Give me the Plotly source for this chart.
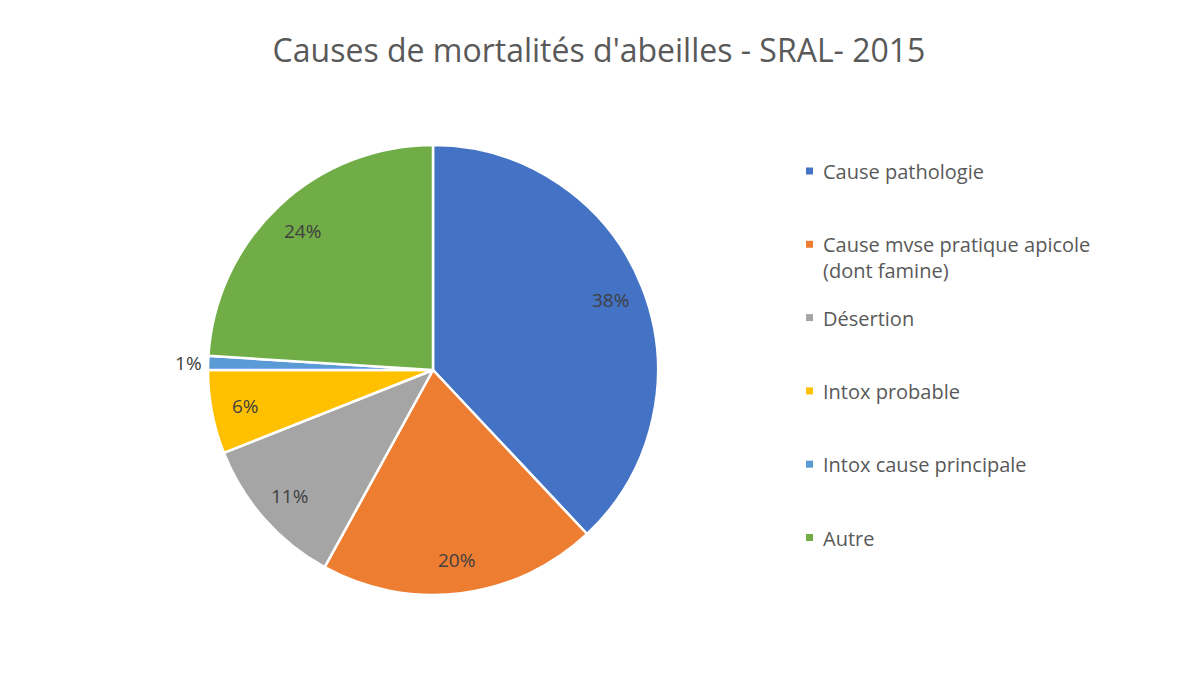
import math
import plotly.graph_objs as go

# donnees
labels = ["Cause pathologie", "Cause mvse pratique apicole<br>(dont famine)", "Désertion",
          "Intox probable", "Intox cause principale", "Autre"]
valeurs = [38, 20, 11, 6, 1, 24]
couleurs = ["#4472C4", "#ED7D31", "#A5A5A5", "#FFC000", "#5B9BD5", "#70AD47"]
# la petite part (1%) a son etiquette a l'exterieur, comme dans Excel
exterieur = [False, False, False, False, True, False]

W, H = 1200, 675
# la page html ajoute une marge de 8px autour de la figure
cx, cy, r = 425, 362, 225

fig = go.Figure()

fig.add_trace(go.Pie(
    labels=labels,
    values=valeurs,
    marker=dict(colors=couleurs, line=dict(color="white", width=2.5)),
    sort=False,
    direction="clockwise",
    rotation=0,
    texttemplate="%{value}%",
    textposition=["outside" if e else "none" for e in exterieur],
    outsidetextfont=dict(family="Open Sans", size=19, color="#404040"),
    automargin=False,
    showlegend=False,
    domain=dict(x=[(cx - r) / W, (cx + r) / W], y=[1 - (cy + r) / H, 1 - (cy - r) / H]),
    hoverinfo="label+percent",
))

# etiquettes internes placees vers le bord de chaque part (style Excel)
total = sum(valeurs)
cumul = 0
for v, e in zip(valeurs, exterieur):
    theta = 2 * math.pi * (cumul + v / 2) / total
    cumul += v
    if e:
        continue
    f = 0.85
    x = cx + f * r * math.sin(theta)
    y = cy - f * r * math.cos(theta)
    fig.add_annotation(text=f"{v}%", xref="paper", yref="paper",
                       x=x / W, y=1 - y / H, xanchor="center", yanchor="middle",
                       showarrow=False,
                       font=dict(family="Open Sans", size=19, color="#404040"))

# legende faite a la main (petits carres + texte)
y0 = 163
pas = 73.3
for i, (lab, col) in enumerate(zip(labels, couleurs)):
    y = y0 + i * pas
    fig.add_shape(type="rect", xref="paper", yref="paper",
                  x0=798 / W, x1=805 / W, y0=1 - (y + 3.5) / H, y1=1 - (y - 3.5) / H,
                  fillcolor=col, line=dict(width=0))
    fig.add_annotation(text=lab, xref="paper", yref="paper",
                       x=813 / W, y=1 - (y - 15) / H, xanchor="left", yanchor="top",
                       align="left", showarrow=False,
                       font=dict(family="Open Sans", size=20, color="#595959"))

fig.update_layout(
    width=W, height=H,
    title=dict(text="Causes de mortalités d'abeilles - SRAL- 2015",
               x=591 / W, xanchor="center", y=1 - 43 / H, yanchor="middle",
               font=dict(family="Open Sans", size=32, color="#595959")),
    margin=dict(l=0, r=0, t=0, b=0),
    paper_bgcolor="white",
    plot_bgcolor="white",
)

fig.write_html("out.html")
